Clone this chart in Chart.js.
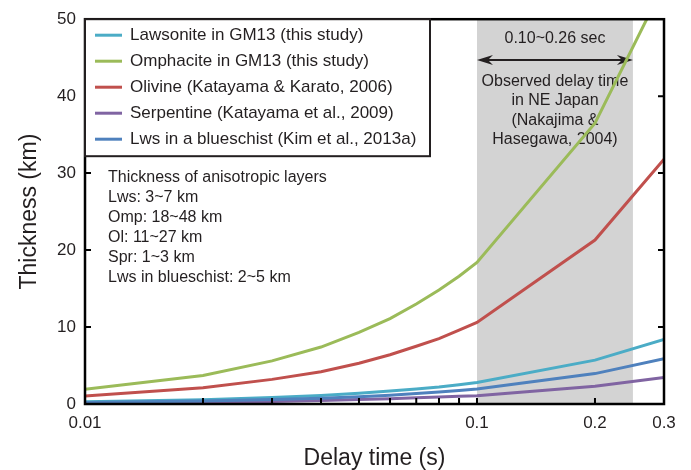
<!DOCTYPE html>
<html>
<head>
<meta charset="utf-8">
<script src="https://cdn.jsdelivr.net/npm/chart.js@4.4.1/dist/chart.umd.min.js"></script>
<style>
  html, body { margin: 0; padding: 0; background: #fff; }
  canvas { display: block; }
</style>
</head>
<body>
<canvas id="thicknessChart" width="691" height="470"></canvas>
<script>
// --- Datos ---
const delayTimes = [0.01, 0.02, 0.03, 0.04, 0.05, 0.06, 0.07, 0.08, 0.09, 0.1, 0.2, 0.3];
const lawsonite  = [0.28, 0.56, 0.84, 1.1, 1.4, 1.7, 1.95, 2.2, 2.5, 2.8, 5.7, 8.4];
const omphacite  = [1.9, 3.7, 5.6, 7.4, 9.3, 11.1, 13.0, 14.8, 16.6, 18.4, 36.5, 54.5];
const olivine    = [1.05, 2.1, 3.2, 4.2, 5.3, 6.4, 7.5, 8.5, 9.6, 10.6, 21.3, 31.8];
const serpentine = [0.11, 0.23, 0.34, 0.46, 0.57, 0.69, 0.8, 0.92, 1.0, 1.08, 2.3, 3.45];
const blueschist = [0.19, 0.38, 0.57, 0.76, 0.95, 1.15, 1.35, 1.55, 1.75, 1.95, 3.95, 5.9];

const seriesNames = [
    'Lawsonite in GM13 (this study)',
    'Omphacite in GM13 (this study)',
    'Olivine (Katayama & Karato, 2006)',
    'Serpentine (Katayama et al., 2009)',
    'Lws in a blueschist (Kim et al., 2013a)'
];
const seriesColors = ['#4bacc6', '#9bbb59', '#c0504d', '#8064a2', '#4f81bd'];

const xTickLabels = [0.01, 0.1, 0.2, 0.3];
const xMinorTicks = [0.02, 0.03, 0.04, 0.05, 0.06, 0.07, 0.08, 0.09, 0.1, 0.2];
const yTickMarks = [10, 20, 30, 40];

const observedBand = [0.1, 0.25];   // zona gris
const arrowLevel = 44.7;            // altura de la flecha (km)

const layerNotes = [
    'Thickness of anisotropic layers',
    'Lws: 3~7 km',
    'Omp: 18~48 km',
    'Ol: 11~27 km',
    'Spr: 1~3 km',
    'Lws in blueschist: 2~5 km'
];
const bandTitle = '0.10~0.26 sec';
const bandNotes = ['Observed delay time', 'in NE Japan', '(Nakajima &', 'Hasegawa, 2004)'];

const FONT = '"Liberation Sans", Arial, sans-serif';
const INK = '#231f20';

function toPoints(values) {
    return delayTimes.map((t, i) => ({ x: t, y: values[i] }));
}

const seriesValues = [lawsonite, omphacite, olivine, serpentine, blueschist];
const lineSets = seriesValues.map((vals, i) => ({
    label: seriesNames[i],
    data: toPoints(vals),
    borderColor: seriesColors[i],
    borderWidth: 3,
    pointRadius: 0,
    tension: 0,
    fill: false,
    order: 5 - i
}));

const bandSet = {
    label: 'band',
    isBand: true,
    data: [{ x: observedBand[0], y: 50 }, { x: observedBand[1], y: 50 }],
    borderWidth: 0,
    borderColor: 'rgba(0,0,0,0)',
    backgroundColor: '#d3d3d3',
    pointRadius: 0,
    fill: 'origin',
    order: 20
};

// --- Dibujos extra: marco, marcas, textos, leyenda ---
const overlay = {
    id: 'overlay',
    afterDatasetDraw(chart, args) {
        if (!chart.data.datasets[args.index].isBand) return;
        const { ctx, chartArea: a, scales: { x, y } } = chart;
        const xs = x.getPixelForValue(observedBand[0]);
        const xe = x.getPixelForValue(observedBand[1]);
        const cx = (xs + xe) / 2;
        const ay = y.getPixelForValue(arrowLevel);
        ctx.save();
        ctx.fillStyle = INK;
        ctx.strokeStyle = INK;
        ctx.font = '16px ' + FONT;
        ctx.textAlign = 'center';
        ctx.textBaseline = 'middle';
        ctx.fillText(bandTitle, cx, a.top + 19);
        bandNotes.forEach((t, i) => ctx.fillText(t, cx, a.top + 62 + i * 19.5));

        // flecha doble
        ctx.lineWidth = 2;
        ctx.beginPath();
        ctx.moveTo(xs + 6, ay);
        ctx.lineTo(xe - 6, ay);
        ctx.stroke();
        [[xs, 1], [xe, -1]].forEach(([px, dir]) => {
            ctx.beginPath();
            ctx.moveTo(px, ay);
            ctx.lineTo(px + dir * 16, ay - 5);
            ctx.lineTo(px + dir * 11, ay);
            ctx.lineTo(px + dir * 16, ay + 5);
            ctx.closePath();
            ctx.fill();
        });

        // notas de espesores
        ctx.textAlign = 'left';
        layerNotes.forEach((t, i) => ctx.fillText(t, a.left + 23, 178 + i * 20));
        ctx.restore();
    },
    afterDatasetsDraw(chart) {
        const { ctx, chartArea: a, scales: { x, y } } = chart;
        ctx.save();
        ctx.strokeStyle = '#000';
        ctx.lineWidth = 2;
        ctx.beginPath();
        xMinorTicks.forEach(v => {
            const px = x.getPixelForValue(v);
            ctx.moveTo(px, a.bottom);
            ctx.lineTo(px, a.bottom - 6);
        });
        yTickMarks.forEach(v => {
            const py = y.getPixelForValue(v);
            ctx.moveTo(a.left, py);
            ctx.lineTo(a.left + 6, py);
            ctx.moveTo(a.right, py);
            ctx.lineTo(a.right - 6, py);
        });
        ctx.stroke();
        ctx.lineWidth = 2.5;
        ctx.strokeRect(a.left, a.top, a.right - a.left, a.bottom - a.top);

        // leyenda con marco
        const items = chart.data.datasets.filter(d => !d.isBand);
        const bx = a.left, by = a.top, bw = 345, bh = 137;
        ctx.fillStyle = '#fff';
        ctx.fillRect(bx, by, bw, bh);
        ctx.lineWidth = 2;
        ctx.strokeStyle = INK;
        ctx.strokeRect(bx, by, bw, bh);
        ctx.font = '17px ' + FONT;
        ctx.textBaseline = 'middle';
        items.forEach((d, i) => {
            const ry = by + 16 + i * 26;
            ctx.strokeStyle = d.borderColor;
            ctx.lineWidth = 3;
            ctx.beginPath();
            ctx.moveTo(bx + 10, ry);
            ctx.lineTo(bx + 37, ry);
            ctx.stroke();
            ctx.fillStyle = INK;
            ctx.fillText(d.label, bx + 45, ry);
        });
        ctx.restore();
    }
};

const ctx = document.getElementById('thicknessChart').getContext('2d');
new Chart(ctx, {
    type: 'line',
    data: { datasets: [...lineSets, bandSet] },
    options: {
        responsive: false,
        animation: false,
        events: [],
        layout: { padding: { left: 0, right: 27, top: 18, bottom: 0 } },
        plugins: { legend: { display: false }, tooltip: { enabled: false } },
        scales: {
            x: {
                type: 'logarithmic',
                min: 0.01,
                max: 0.3,
                afterBuildTicks: s => { s.ticks = xTickLabels.map(v => ({ value: v })); },
                afterFit: s => { s.height = 66; },
                ticks: {
                    callback: v => String(v),
                    autoSkip: false,
                    maxRotation: 0,
                    padding: 9,
                    color: INK,
                    font: { family: FONT, size: 17 }
                },
                grid: { display: false, drawTicks: false },
                border: { display: false },
                title: {
                    display: true,
                    text: 'Delay time (s)',
                    color: INK,
                    font: { family: FONT, size: 23 },
                    padding: { top: 0, bottom: -2 }
                }
            },
            y: {
                min: 0,
                max: 50,
                afterFit: s => { s.width = 85; },
                ticks: {
                    stepSize: 10,
                    padding: 9,
                    color: INK,
                    font: { family: FONT, size: 17 }
                },
                grid: { display: false, drawTicks: false },
                border: { display: false },
                title: {
                    display: true,
                    text: 'Thickness (km)',
                    color: INK,
                    font: { family: FONT, size: 23 },
                    padding: { top: 16, bottom: 0 }
                }
            }
        }
    },
    plugins: [overlay]
});
</script>
</body>
</html>
